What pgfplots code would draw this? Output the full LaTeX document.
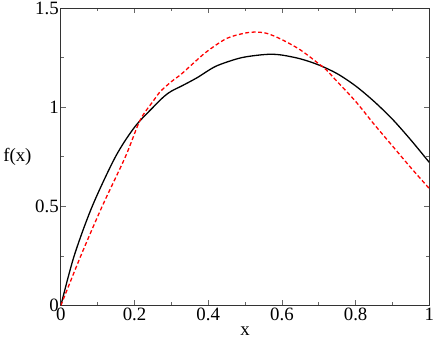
\documentclass[border=0pt]{standalone}
\usepackage{pgfplots}
\pgfplotsset{compat=1.18}
\usepackage{fontspec}
\setmainfont{Liberation Serif}
\begin{document}
\begin{tikzpicture}
\begin{axis}[
  scale only axis, width=372pt, height=300pt,
  xmin=0, xmax=1, ymin=0, ymax=1.5,
  xtick={0,0.2,0.4,0.6,0.8,1}, xticklabels={0,0.2,0.4,0.6,0.8,1},
  ytick={0,0.5,1,1.5}, yticklabels={0,0.5,1,1.5},
  minor x tick num=1, minor y tick num=1,
  tick align=inside, major tick length=5pt, minor tick length=3pt,
  tick style={black!60, line width=0.8pt},
  axis line style={black!80, line width=0.9pt},
  ticklabel style={font=\fontsize{19}{19}\selectfont},
  xticklabel style={inner sep=2pt},
  yticklabel style={inner sep=2pt},
  /pgf/number format/assume math mode=true,
  xlabel={x}, ylabel={f(x)},
  label style={font=\fontsize{19}{19}\selectfont},
  xlabel style={at={(axis description cs:0.5,-0.1)}, anchor=base},
  ylabel style={at={(axis description cs:-0.118,0.5)}, rotate=-90, anchor=center},
]
\addplot[black, line width=1.3pt, smooth, tension=0.5] coordinates {
(0,0) (0.036,0.25) (0.085,0.5) (0.148,0.75) (0.2,0.9) (0.25,1.0)
(0.28,1.055) (0.30,1.082) (0.33,1.11) (0.37,1.15) (0.42,1.207) (0.48,1.246)
(0.52,1.26) (0.565,1.268) (0.6,1.264) (0.65,1.245) (0.7,1.214)
(0.75,1.17) (0.8,1.108) (0.85,1.03) (0.9,0.94) (0.95,0.835) (1.0,0.722)
};
\addplot[red, line width=1.3pt, dash pattern=on 4pt off 2.5pt, smooth, tension=0.5] coordinates {
(0,0) (0.054,0.25) (0.112,0.5) (0.175,0.75) (0.215,0.935) (0.25,1.03) (0.27,1.08)
(0.3,1.13) (0.325,1.165) (0.355,1.215) (0.395,1.28) (0.45,1.348) (0.5,1.375)
(0.53,1.38) (0.56,1.373) (0.6,1.342) (0.65,1.29) (0.7,1.22) (0.72,1.19)
(0.75,1.13) (0.8,1.03) (0.85,0.915) (0.9,0.805) (0.95,0.695) (1.0,0.59)
};
\end{axis}
\end{tikzpicture}
\end{document}
